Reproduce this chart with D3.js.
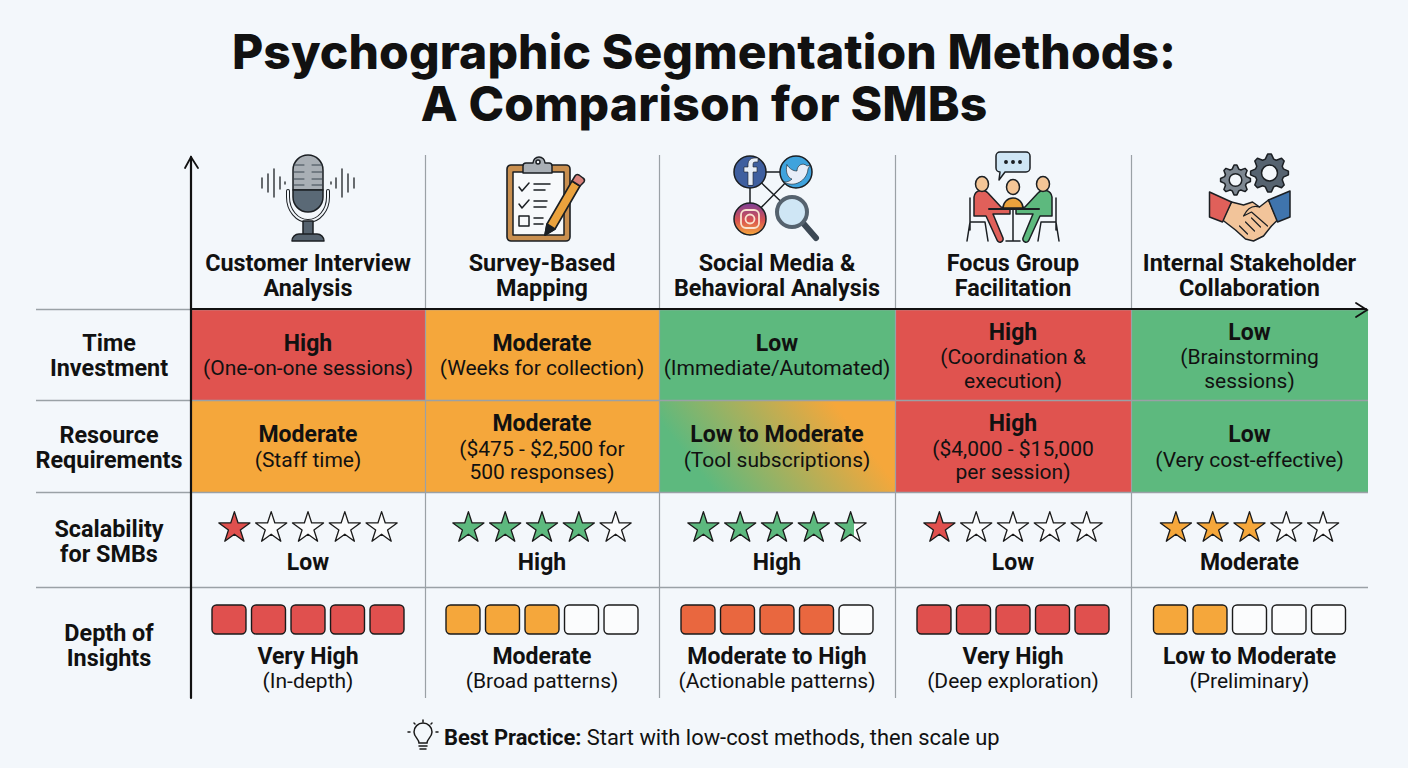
<!DOCTYPE html>
<html>
<head>
<meta charset="utf-8">
<script src="https://cdn.jsdelivr.net/npm/d3@7/dist/d3.min.js"></script>
<style>
html, body { margin: 0; padding: 0; background: #f3f7fb; }
svg { display: block; }
text { font-family: Roboto, sans-serif; fill: #111; text-anchor: middle; }
</style>
</head>
<body>
<script>
var width = 1408;
var height = 768;

var titleLines = ["Psychographic Segmentation Methods:", "A Comparison for SMBs"];
var methods = ["Customer Interview|Analysis", "Survey-Based|Mapping", "Social Media &|Behavioral Analysis", "Focus Group|Facilitation", "Internal Stakeholder|Collaboration"];
var rowLabels = ["Time|Investment", "Resource|Requirements", "Scalability|for SMBs", "Depth of|Insights"];

var timeLevels = ["High", "Moderate", "Low", "High", "Low"];
var timeNotes = ["(One-on-one sessions)", "(Weeks for collection)", "(Immediate/Automated)", "(Coordination &|execution)", "(Brainstorming|sessions)"];
var resourceLevels = ["Moderate", "Moderate", "Low to Moderate", "High", "Low"];
var resourceNotes = ["(Staff time)", "($475 - $2,500 for|500 responses)", "(Tool subscriptions)", "($4,000 - $15,000|per session)", "(Very cost-effective)"];
var scalabilityStars = [1, 4, 4.6, 1, 3];
var scalabilityLevels = ["Low", "High", "High", "Low", "Moderate"];
var depthBlocks = [5, 3, 4, 5, 2];
var depthLevels = ["Very High", "Moderate", "Moderate to High", "Very High", "Low to Moderate"];
var depthNotes = ["(In-depth)", "(Broad patterns)", "(Actionable patterns)", "(Deep exploration)", "(Preliminary)"];

var levelColor = {
    "Low": "#5db97e",
    "Moderate": "#f5a73b",
    "High": "#e0534f",
    "Very High": "#e0504e",
    "Moderate to High": "#e9673f",
    "Low to Moderate": "#f5a73b"
};
var starColor = { "Low": "#e0504e", "Moderate": "#f5a73b", "High": "#5db97e" };

var svg = d3.select("body").append("svg").attr("width", width).attr("height", height);
var defs = svg.append("defs");

svg.append("rect").attr("width", width).attr("height", height).attr("fill", "#f3f7fb");

// column and row edges are slightly uneven in the picture, so piecewise scales
var colEdge = d3.scaleLinear().domain([0, 1, 2, 3, 4, 5]).range([191, 425, 659, 895, 1131, 1368]);
var rowEdge = d3.scaleLinear().domain([0, 1, 2, 3, 4]).range([309, 400, 492, 587, 698]);
var cx = function (i) { return (colEdge(i) + colEdge(i + 1)) / 2; };
var labelX = 109;

// multi line text, centred around y
function lines(g, str, x, y, size, weight, lineGap) {
    var parts = str.split("|");
    parts.forEach(function (p, k) {
        g.append("text")
            .attr("x", x)
            .attr("y", y + k * lineGap)
            .attr("dy", "0.36em")
            .attr("font-size", size)
            .attr("font-weight", weight)
            .text(p);
    });
}

// title
svg.selectAll(".title").data(titleLines).enter().append("text")
    .attr("class", "title")
    .attr("x", 704)
    .attr("y", function (d, i) { return 69 + i * 52; })
    .attr("font-size", 48)
    .attr("font-weight", 800)
    .style("font-family", "Inter, sans-serif")
    .attr("letter-spacing", 0.1)
    .text(function (d) { return d; });

// gradient for the mixed cell
var mixed = defs.append("linearGradient").attr("id", "mixedCell")
    .attr("x1", 0).attr("y1", 0.65).attr("x2", 1).attr("y2", 0.35);
mixed.append("stop").attr("offset", "0.12").attr("stop-color", levelColor["Low"]);
mixed.append("stop").attr("offset", "0.85").attr("stop-color", levelColor["Moderate"]);

// heat rows
[timeLevels, resourceLevels].forEach(function (levels, r) {
    var notes = r === 0 ? timeNotes : resourceNotes;
    var g = svg.append("g").attr("class", "heat-row");
    g.selectAll("rect").data(levels).enter().append("rect")
        .attr("x", function (d, i) { return colEdge(i); })
        .attr("y", rowEdge(r))
        .attr("width", function (d, i) { return colEdge(i + 1) - colEdge(i); })
        .attr("height", rowEdge(r + 1) - rowEdge(r))
        .attr("fill", function (d) { return d === "Low to Moderate" ? "url(#mixedCell)" : levelColor[d]; });
    levels.forEach(function (d, i) {
        var two = notes[i].indexOf("|") >= 0;
        var mid = (rowEdge(r) + rowEdge(r + 1)) / 2;
        var top = two ? mid - 23 : mid - 12;
        lines(g, d, cx(i), top, 23, 700, 0);
        lines(g, notes[i], cx(i), top + 25, 21, 400, 23.5);
    });
});

// grid
var gridV = d3.axisTop(colEdge).tickValues([1, 2, 3, 4]).tickSize(-(rowEdge(4) - 155)).tickFormat("");
svg.append("g").attr("transform", "translate(0,155)").call(gridV)
    .call(function (g) { g.select(".domain").remove(); })
    .selectAll("line").attr("stroke", "#9aa1a6").attr("stroke-width", 1.2);
var gridH = d3.axisRight(rowEdge).tickValues([0, 1, 2, 3]).tickSize(1368 - 36).tickFormat("");
svg.append("g").attr("transform", "translate(36,0)").call(gridH)
    .call(function (g) { g.select(".domain").remove(); })
    .selectAll("line").attr("stroke", "#9aa1a6").attr("stroke-width", 1.4);

// axes with arrow heads
var axes = svg.append("g").attr("fill", "none").attr("stroke", "#111").attr("stroke-linecap", "round");
axes.append("line").attr("x1", 191).attr("x2", 191).attr("y1", rowEdge(4)).attr("y2", 157).attr("stroke-width", 2.2);
axes.append("path").attr("d", "M185,168 L191,157 L198,168").attr("stroke-width", 1.8);
axes.append("line").attr("x1", 191).attr("x2", 1366).attr("y1", rowEdge(0)).attr("y2", rowEdge(0)).attr("stroke-width", 2);
axes.append("path").attr("d", "M1356,303 L1367,310 L1356,317").attr("stroke-width", 1.8);

// headers and row labels
methods.forEach(function (d, i) { lines(svg, d, cx(i), 263, 23.4, 700, 25); });
var rowLabelY = [343, 435, 529, 633];
rowLabels.forEach(function (d, i) { lines(svg, d, labelX, rowLabelY[i], 23.4, 700, 25); });

// stars
var unit = d3.scaleBand().domain([0, 1, 2, 3, 4]).range([-92, 92]).paddingInner(0).align(0.5);
var star = d3.symbol().type(d3.symbolStar).size(300);
scalabilityStars.forEach(function (v, i) {
    var g = svg.append("g").attr("transform", "translate(" + cx(i) + ",0)");
    var color = starColor[scalabilityLevels[i]];
    d3.range(5).forEach(function (k) {
        var f = Math.max(0, Math.min(1, v - k));
        var fill = "#fbfcfd";
        if (f === 1) fill = color;
        else if (f > 0) {
            var id = "partial" + i + k;
            var lg = defs.append("linearGradient").attr("id", id);
            lg.append("stop").attr("offset", f).attr("stop-color", color);
            lg.append("stop").attr("offset", f).attr("stop-color", "#fbfcfd");
            fill = "url(#" + id + ")";
        }
        g.append("path")
            .attr("d", star())
            .attr("transform", "translate(" + (unit(k) + unit.bandwidth() / 2) + ",528)")
            .attr("fill", fill)
            .attr("stroke", "#1a1a1a")
            .attr("stroke-width", 1.3)
            .attr("stroke-linejoin", "round");
    });
    lines(g, scalabilityLevels[i], 0, 562, 23, 700, 0);
});

// depth blocks
var block = d3.scaleBand().domain([0, 1, 2, 3, 4]).range([-96, 96]).paddingInner(0.14);
depthBlocks.forEach(function (v, i) {
    var g = svg.append("g").attr("transform", "translate(" + cx(i) + ",0)");
    g.selectAll("rect").data([0, 1, 2, 3, 4]).enter().append("rect")
        .attr("x", function (d) { return block(d); })
        .attr("y", 605)
        .attr("width", block.bandwidth())
        .attr("height", 29)
        .attr("rx", 4.5)
        .attr("fill", function (d) { return d < v ? levelColor[depthLevels[i]] : "#fbfcfd"; })
        .attr("stroke", "#1a1a1a")
        .attr("stroke-width", 1.4);
    lines(g, depthLevels[i], 0, 656, 23, 700, 0);
    lines(g, depthNotes[i], 0, 680, 21, 400, 0);
});

// icons
function icon(i) {
    return svg.append("g").attr("transform", "translate(" + cx(i) + ",150)")
        .attr("stroke", "#1b1f23").attr("stroke-width", 1.5).attr("stroke-linejoin", "round").attr("stroke-linecap", "round");
}

function gear(g, x, y, r, fill) {
    var teeth = 8, pts = [];
    d3.range(teeth * 4).forEach(function (k) {
        var a = (k - 0.5) / (teeth * 4) * 2 * Math.PI;
        var rr = k % 4 < 2 ? r : r * 0.76;
        pts.push([x + rr * Math.cos(a), y + rr * Math.sin(a)]);
    });
    g.append("path").attr("d", "M" + pts.join("L") + "Z").attr("fill", fill);
    g.append("circle").attr("cx", x).attr("cy", y).attr("r", r * 0.42).attr("fill", "#f3f7fb");
}

// microphone
(function () {
    var g = icon(0);
    g.append("path").attr("d", "M-15,40 V20 a15,15 0 0 1 30,0 V40 Z").attr("fill", "#a9afb5");
    g.append("path").attr("d", "M-15,40 H15 V47 a15,15 0 0 1 -30,0 Z").attr("fill", "#5a6976");
    g.append("path").attr("d", "M-20,41 V47 a20,24 0 0 0 40,0 V41").attr("fill", "none").attr("stroke-width", 4).attr("stroke", "#1b1f23");
    g.append("path").attr("d", "M-20,41 V47 a20,24 0 0 0 40,0 V41").attr("fill", "none").attr("stroke-width", 2).attr("stroke", "#f3f7fb");
    g.selectAll(".bar").data([15, 22, 29, 35]).enter().append("path")
        .attr("d", function (d) { return "M-14," + d + " h10 M4," + d + " h10"; }).attr("stroke-width", 1).attr("stroke", "#3b4650");
    g.append("rect").attr("x", -5).attr("y", 71).attr("width", 10).attr("height", 14).attr("fill", "#55626e");
    g.append("path").attr("d", "M-16,91 a7,7 0 0 1 7,-7 H9 a7,7 0 0 1 7,7 Z").attr("fill", "#55626e");
    var wave = [[-46, 5], [-40, 9], [-34, 14], [-28, 6], [-23, 1], [23, 1], [28, 5], [34, 14], [40, 9], [46, 5]];
    wave.forEach(function (w) {
        g.append("line").attr("x1", w[0]).attr("x2", w[0]).attr("y1", 33 - w[1]).attr("y2", 33 + w[1]).attr("stroke-width", 1.3);
    });
})();

// clipboard
(function () {
    var g = icon(1);
    g.append("rect").attr("x", -35).attr("y", 15).attr("width", 63).attr("height", 76).attr("rx", 4).attr("fill", "#c98f4f").attr("stroke-width", 1.6);
    g.append("rect").attr("x", -29).attr("y", 22).attr("width", 51).attr("height", 63).attr("fill", "#f7f9fb");
    g.append("path").attr("d", "M-19,23 V16 a3,3 0 0 1 3,-3 H-9 a6,6 0 0 1 12,0 H7 a3,3 0 0 1 3,3 V23 Z").attr("fill", "#a9afb5");
    g.append("circle").attr("cx", -4).attr("cy", 12).attr("r", 2).attr("fill", "#f3f7fb");
    g.append("path").attr("d", "M-23,37 l3,4 l7,-8 M-23,54 l3,4 l7,-8").attr("fill", "none");
    g.append("rect").attr("x", -23).attr("y", 66).attr("width", 10).attr("height", 10).attr("fill", "none");
    g.append("path").attr("d", "M-8,34 H8 M-8,40 H3 M-8,51 H5 M-8,57 H4 M-8,68 H1 M-8,74 H1").attr("fill", "none");
    g.append("path").attr("d", "M5,74 L30,31 L38,36 L13,79 L3,85 Z").attr("fill", "#eaa23d").attr("stroke-width", 1.6);
    g.append("path").attr("d", "M30,31 L33,26 a3,3 0 0 1 4,-1 l4,3 a3,3 0 0 1 1,4 L38,36 Z").attr("fill", "#d9827c");
    g.append("path").attr("d", "M3,85 L5,74 L13,79 Z").attr("fill", "#1b1f23");
})();

// social network
(function () {
    var g = icon(2);
    var ig = defs.append("linearGradient").attr("id", "insta").attr("x1", 0).attr("y1", 0).attr("x2", 0).attr("y2", 1);
    ig.append("stop").attr("offset", 0).attr("stop-color", "#7d3f98");
    ig.append("stop").attr("offset", 0.55).attr("stop-color", "#d9534f");
    ig.append("stop").attr("offset", 1).attr("stop-color", "#f5a73b");
    g.append("path").attr("d", "M-27,22 H19 M-27,22 V69 M-27,69 L19,22 M-27,22 L15,62").attr("fill", "none");
    g.append("circle").attr("cx", -27).attr("cy", 22).attr("r", 16).attr("fill", "#3f5f9f");
    g.append("circle").attr("cx", 19).attr("cy", 22).attr("r", 16).attr("fill", "#3fa3dd");
    g.append("circle").attr("cx", -27).attr("cy", 69).attr("r", 16).attr("fill", "url(#insta)");
    g.append("path").attr("d", "M-24,35 V22 H-20 V17 H-24 V14 a2,2 0 0 1 2,-2 H-19 V8 H-23 a6,6 0 0 0 -6,6 V17 H-33 V22 H-29 V35 Z")
        .attr("fill", "#e7eef8").attr("stroke-width", 0.6);
    g.append("path").attr("d", "M10,15 c3,4 6,6 10,6 c0,-6 6,-9 10,-5 l3,-1 l-2,4 c-1,12 -14,19 -24,13 c4,0 6,-1 8,-3 c-4,-1 -7,-7 -5,-14 Z")
        .attr("fill", "#e7eef8").attr("stroke-width", 0.6);
    g.append("rect").attr("x", -36).attr("y", 60).attr("width", 18).attr("height", 18).attr("rx", 5).attr("fill", "none").attr("stroke", "#f9e3cf").attr("stroke-width", 1.8);
    g.append("circle").attr("cx", -27).attr("cy", 69).attr("r", 4.5).attr("fill", "none").attr("stroke", "#f9e3cf").attr("stroke-width", 1.8);
    g.append("path").attr("d", "M26,73 L39,88").attr("stroke-width", 6).attr("stroke", "#3c4854");
    g.append("circle").attr("cx", 15).attr("cy", 62).attr("r", 15).attr("fill", "#cfe6f5").attr("stroke", "#55626e").attr("stroke-width", 4);
})();

// focus group
(function () {
    var g = icon(3);
    g.append("path").attr("d", "M-17,6 a4,4 0 0 1 4,-4 H13 a4,4 0 0 1 4,4 V18 a4,4 0 0 1 -4,4 H-8 L-14,30 L-13,22 a4,4 0 0 1 -4,-4 Z").attr("fill", "#cfe6f5");
    g.selectAll(".dot").data([-7, 0, 7]).enter().append("circle")
        .attr("cx", function (d) { return d; }).attr("cy", 12).attr("r", 1.2).attr("fill", "#1b1f23");
    g.append("path").attr("d", "M-43,48 V80 M-43,72 H-28 M-43,72 L-46,91 M-28,72 L-25,91 M43,48 V80 M43,72 H28 M43,72 L46,91 M28,72 L25,91").attr("fill", "none");
    g.append("path").attr("d", "M-39,47 a8,8 0 0 1 14,-4 L-12,57 L-3,59 V64 H-20 L-10,88 a3,3 0 0 1 -6,2 L-27,66 H-39 Z").attr("fill", "#e0605a");
    g.append("path").attr("d", "M39,47 a8,8 0 0 0 -14,-4 L12,57 L3,59 V64 H20 L10,88 a3,3 0 0 0 6,2 L27,66 H39 Z").attr("fill", "#5db97e");
    g.append("path").attr("d", "M-10,58 a10,10 0 0 1 20,0 Z").attr("fill", "#eaa23d");
    g.append("path").attr("d", "M-24,59 H26").attr("stroke-width", 2);
    g.append("path").attr("d", "M0,59 V90 M-7,91 H7").attr("fill", "none");
    [[-31, 34], [0, 37], [30, 34]].forEach(function (h) {
        g.append("ellipse").attr("cx", h[0]).attr("cy", h[1]).attr("rx", 6.5).attr("ry", 7.5).attr("fill", "#f4c596");
    });
})();

// handshake with gears
(function () {
    var g = icon(4);
    gear(g, -14, 30, 15, "#7d8791");
    gear(g, 20, 23, 19, "#566370");
    g.append("path").attr("d", "M-18,52 L-6,55 L3,52 L10,57 L19,50 L28,70 L22,76 L14,86 L4,91 L-4,89 L-14,80 L-27,70 Z").attr("fill", "#f2c49a");
    g.append("path").attr("d", "M-6,66 C-2,58 4,55 10,57 M-6,66 L2,62 L18,76 M-10,76 l8,8 M-4,72 l9,9 M2,68 l9,9").attr("fill", "none").attr("stroke-width", 1.2);
    g.append("path").attr("d", "M-40,42 L-18,52 L-27,72 L-40,67 Z").attr("fill", "#e0605a");
    g.append("path").attr("d", "M40.5,41 L19,50 L28,72 L40.5,67 Z").attr("fill", "#3f74ad");
})();

// footer
var foot = svg.append("g");
foot.append("text").attr("x", 444).attr("y", 737).attr("dy", "0.36em").attr("font-size", 21.9).style("text-anchor", "start")
    .call(function (t) {
        t.append("tspan").attr("font-weight", 700).text("Best Practice:");
        t.append("tspan").text(" Start with low-cost methods, then scale up");
    });
var bulb = foot.append("g").attr("transform", "translate(423,735)").attr("fill", "none").attr("stroke", "#1a1a1a").attr("stroke-width", 1.5).attr("stroke-linecap", "round");
bulb.append("path").attr("d", "M-4,8 C-4,4 -9,2 -9,-3 a9,9 0 0 1 18,0 C9,2 4,4 4,8 Z");
bulb.append("path").attr("d", "M-4,11 H4 M-3,14 H3 M-13,-3 H-15 M13,-3 H15 M0,-15 V-13 M-9,-12 L-8,-11 M9,-12 L8,-11");
</script>
</body>
</html>
